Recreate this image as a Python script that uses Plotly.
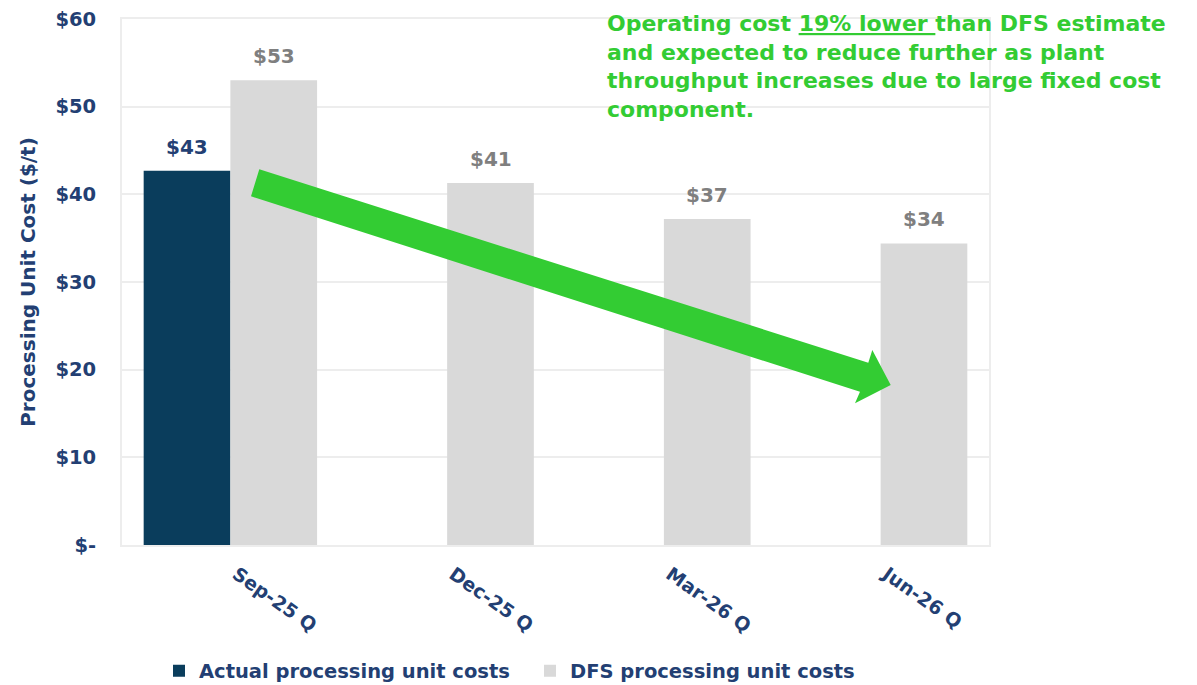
import plotly.graph_objects as go

categories = ["Sep-25 Q", "Dec-25 Q", "Mar-26 Q", "Jun-26 Q"]
actual_costs = [42.7, None, None, None]
dfs_costs = [53.0, 41.3, 37.2, 34.4]
actual_labels = ["$43", "", "", ""]
dfs_labels = ["$53", "$41", "$37", "$34"]
y_tickvals = [0, 10, 20, 30, 40, 50, 60]
y_ticktext = ["$-", "$10", "$20", "$30", "$40", "$50", "$60"]

NAVY = "#0a3d5c"
TXT = "#233f73"
GREY = "#d9d9d9"
GREEN = "#33cc33"
FONT = "DejaVu Sans"

# page body has an 8px margin; compensate so the plot lands where the reference has it
OFF = 8
W, H = 1197 - OFF, 685 - OFF
L, R, T, B = 122, 989, 19, 545   # plot area edges in screen pixels

fig = go.Figure()
fig.add_trace(go.Bar(x=categories, y=actual_costs, name="Actual processing unit costs",
                     marker=dict(color=NAVY, line=dict(width=0))))
fig.add_trace(go.Bar(x=categories, y=dfs_costs, name="DFS processing unit costs",
                     marker=dict(color=GREY, line=dict(width=0))))

annotations = []
for c, v, lab in zip(categories, actual_costs, actual_labels):
    if v is not None and lab:
        annotations.append(dict(x=c, y=v, xref="x", yref="y", text=lab, showarrow=False,
                                xshift=-43.5, yshift=24, yanchor="middle",
                                font=dict(family=FONT, size=20, color=TXT, weight="bold")))
for c, v, lab in zip(categories, dfs_costs, dfs_labels):
    annotations.append(dict(x=c, y=v, xref="x", yref="y", text=lab, showarrow=False,
                            xshift=43.5, yshift=24, yanchor="middle",
                            font=dict(family=FONT, size=20, color="#7f7f7f", weight="bold")))

annotations.append(dict(
    xref="paper", yref="paper", x=(605 - L) / (R - L), y=(B - 9) / (B - T),
    xanchor="left", yanchor="top", align="left", showarrow=False,
    text=("Operating cost <u>19% lower </u>than DFS estimate<br>"
          "and expected to reduce further as plant<br>"
          "throughput increases due to large fixed cost<br>"
          "component."),
    font=dict(family=FONT, size=22, color=GREEN, weight="bold")))

# decorative arrow (pixel outline -> paper coords)
arrow_px = [(259.3, 169.3), (868.3, 362.7), (872.3, 350), (890.7, 385),
            (855, 403.3), (860, 391.7), (251, 196.3)]
def to_paper(p):
    return ((p[0] - L) / (R - L), (B - p[1]) / (B - T))
pts = [to_paper(p) for p in arrow_px]
path = "M " + " L ".join(f"{x:.5f},{y:.5f}" for x, y in pts) + " Z"

fig.update_layout(
    width=W, height=H,
    margin=dict(l=L - OFF, r=1197 - R, t=T - OFF, b=685 - B, autoexpand=False),
    paper_bgcolor="white", plot_bgcolor="white",
    barmode="group", bargap=0.2, bargroupgap=0,
    font=dict(family=FONT, color=TXT),
    showlegend=True,
    legend=dict(orientation="h", x=(159 - L) / (R - L), xanchor="left",
                y=(B - 671) / (B - T), yanchor="middle",
                font=dict(family=FONT, size=19.5, color=TXT, weight="bold"),
                entrywidth=326, entrywidthmode="pixels",
                itemsizing="constant"),
    annotations=annotations,
    shapes=[dict(type="path", xref="paper", yref="paper", path=path,
                 fillcolor=GREEN, line=dict(width=0), layer="above")],
)
fig.update_yaxes(range=[0, 60], tickvals=y_tickvals, ticktext=y_ticktext, automargin=False,
                 showgrid=True, gridcolor="#ededed", gridwidth=1.5,
                 showline=True, linecolor="#ededed", linewidth=2, mirror=True,
                 zeroline=False, ticks="", ticklabelstandoff=20, ticklabeloverflow="allow",
                 tickfont=dict(family=FONT, size=19.5, color=TXT, weight="bold"),
                 title=dict(text="Processing Unit Cost ($/t)", standoff=14,
                            font=dict(family=FONT, size=20, color=TXT, weight="bold")))
fig.update_xaxes(showline=True, linecolor="#ededed", linewidth=2, mirror=True, automargin=False,
                 showgrid=False, ticks="", tickangle=35, ticklabelstandoff=9,
                 ticklabelshift=6, ticklabeloverflow="allow",
                 tickfont=dict(family=FONT, size=19, color=TXT, weight="bold"))

fig.write_html("out.html")
